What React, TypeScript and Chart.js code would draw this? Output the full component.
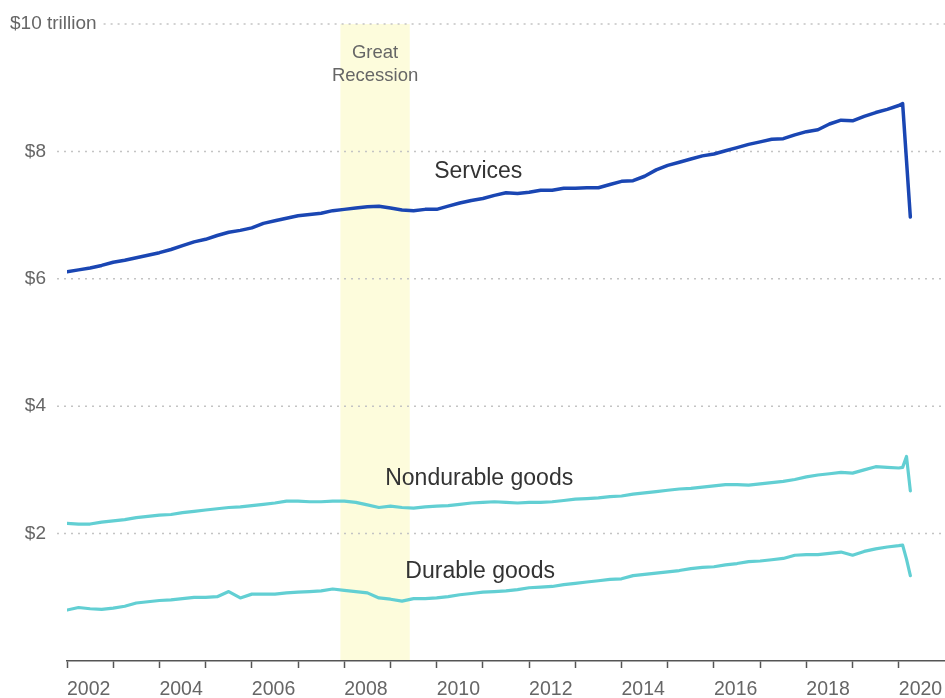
import { useEffect, useRef } from "react";
import { Chart, registerables } from "chart.js";

Chart.register(...registerables);

// Monthly observation dates (quarterly samples, monthly at the end)
const dates = [
  "2002-01", "2002-04", "2002-07", "2002-10",
  "2003-01", "2003-04", "2003-07", "2003-10",
  "2004-01", "2004-04", "2004-07", "2004-10",
  "2005-01", "2005-04", "2005-07", "2005-10",
  "2006-01", "2006-04", "2006-07", "2006-10",
  "2007-01", "2007-04", "2007-07", "2007-10",
  "2008-01", "2008-04", "2008-07", "2008-10",
  "2009-01", "2009-04", "2009-07", "2009-10",
  "2010-01", "2010-04", "2010-07", "2010-10",
  "2011-01", "2011-04", "2011-07", "2011-10",
  "2012-01", "2012-04", "2012-07", "2012-10",
  "2013-01", "2013-04", "2013-07", "2013-10",
  "2014-01", "2014-04", "2014-07", "2014-10",
  "2015-01", "2015-04", "2015-07", "2015-10",
  "2016-01", "2016-04", "2016-07", "2016-10",
  "2017-01", "2017-04", "2017-07", "2017-10",
  "2018-01", "2018-04", "2018-07", "2018-10",
  "2019-01", "2019-04", "2019-07", "2019-10",
  "2020-01", "2020-02", "2020-03", "2020-04",
];

// Trillions of dollars
const services = [
  6.11, 6.14, 6.17, 6.21,
  6.26, 6.29, 6.33, 6.37,
  6.41, 6.46, 6.52, 6.58,
  6.62, 6.68, 6.73, 6.76,
  6.80, 6.87, 6.91, 6.95,
  6.99, 7.01, 7.03, 7.07,
  7.09, 7.11, 7.13, 7.14,
  7.11, 7.08, 7.07, 7.09,
  7.09, 7.14, 7.19, 7.23,
  7.26, 7.31, 7.35, 7.34,
  7.36, 7.39, 7.39, 7.42,
  7.42, 7.43, 7.43, 7.48,
  7.53, 7.54, 7.61, 7.71,
  7.78, 7.83, 7.88, 7.93,
  7.96, 8.01, 8.06, 8.11,
  8.15, 8.19, 8.20, 8.26,
  8.31, 8.34, 8.43, 8.49,
  8.48, 8.55, 8.61, 8.66,
  8.72, 8.75, 7.86, 6.97,
];

const nondurable = [
  2.16, 2.15, 2.15, 2.18,
  2.20, 2.22, 2.25, 2.27,
  2.29, 2.30, 2.33, 2.35,
  2.37, 2.39, 2.41, 2.42,
  2.44, 2.46, 2.48, 2.51,
  2.51, 2.50, 2.50, 2.51,
  2.51, 2.49, 2.45, 2.41,
  2.43, 2.41, 2.40, 2.42,
  2.43, 2.44, 2.46, 2.48,
  2.49, 2.50, 2.49, 2.48,
  2.49, 2.49, 2.50, 2.52,
  2.54, 2.55, 2.56, 2.58,
  2.59, 2.62, 2.64, 2.66,
  2.68, 2.70, 2.71, 2.73,
  2.75, 2.77, 2.77, 2.76,
  2.78, 2.80, 2.82, 2.85,
  2.89, 2.92, 2.94, 2.96,
  2.95, 3.00, 3.05, 3.04,
  3.03, 3.04, 3.21, 2.67,
];

const durable = [
  0.80, 0.84, 0.82, 0.81,
  0.83, 0.86, 0.91, 0.93,
  0.95, 0.96, 0.98, 1.00,
  1.00, 1.01, 1.09, 0.99,
  1.05, 1.05, 1.05, 1.07,
  1.08, 1.09, 1.10, 1.13,
  1.11, 1.09, 1.07, 0.99,
  0.97, 0.94, 0.98, 0.98,
  0.99, 1.01, 1.04, 1.06,
  1.08, 1.09, 1.10, 1.12,
  1.15, 1.16, 1.17, 1.20,
  1.22, 1.24, 1.26, 1.28,
  1.29, 1.34, 1.36, 1.38,
  1.40, 1.42, 1.45, 1.47,
  1.48, 1.51, 1.53, 1.56,
  1.57, 1.59, 1.61, 1.66,
  1.67, 1.67, 1.69, 1.71,
  1.66, 1.72, 1.76, 1.79,
  1.81, 1.82, 1.60, 1.34,
];

const yTickValues = [2, 4, 6, 8, 10];
const yTickLabels = ["$2", "$4", "$6", "$8", "$10 trillion"];
const xTickYears = [
  2002, 2003, 2004, 2005, 2006, 2007, 2008, 2009, 2010, 2011,
  2012, 2013, 2014, 2015, 2016, 2017, 2018, 2019, 2020,
];
const recessionStart = "2007-12";
const recessionEnd = "2009-06";
const recessionText = ["Great", "Recession"];
const seriesLabelText = ["Services", "Nondurable goods", "Durable goods"];
const seriesLabelAt = [
  [2010.9, 7.68],
  [2010.92, 2.865],
  [2010.94, 1.4],
];

const FONT = '"Liberation Sans", Arial, sans-serif';

function toYear(d: string): number {
  const [y, m] = d.split("-").map(Number);
  return y + (m - 1) / 12;
}

function toPoints(values: number[]) {
  return values.map((v, i) => ({ x: toYear(dates[i]), y: v }));
}

const annotatePlugin = {
  id: "annotate",
  beforeDraw(chart: any) {
    const { ctx, scales } = chart;
    const x = scales.x;
    const y = scales.y;
    ctx.save();
    // recession band
    const bx0 = x.getPixelForValue(toYear(recessionStart));
    const bx1 = x.getPixelForValue(toYear(recessionEnd));
    const byTop = y.getPixelForValue(10);
    const byBot = y.getPixelForValue(0);
    ctx.fillStyle = "#fdfcdc";
    ctx.fillRect(bx0, byTop, bx1 - bx0, byBot - byTop - 1);

    // y grid + labels
    ctx.font = `19px ${FONT}`;
    ctx.textBaseline = "middle";
    yTickValues.forEach((v, i) => {
      const py = y.getPixelForValue(v);
      const label = yTickLabels[i];
      let start: number;
      ctx.fillStyle = "#666";
      if (i === yTickValues.length - 1) {
        ctx.textAlign = "left";
        ctx.fillText(label, 10, py);
        start = 10 + ctx.measureText(label).width + 7;
      } else {
        ctx.textAlign = "right";
        ctx.fillText(label, 46, py);
        start = 57;
      }
      ctx.save();
      ctx.setLineDash([2, 5]);
      ctx.strokeStyle = "#c4c4c4";
      ctx.lineWidth = 1.5;
      ctx.beginPath();
      ctx.moveTo(start, py);
      ctx.lineTo(chart.width, py);
      ctx.stroke();
      ctx.restore();
    });

    // recession text
    ctx.font = `18.5px ${FONT}`;
    ctx.fillStyle = "#666";
    ctx.textAlign = "center";
    const cx = (bx0 + bx1) / 2;
    ctx.fillText(recessionText[0], cx, byTop + 29);
    ctx.fillText(recessionText[1], cx, byTop + 52);
    ctx.restore();
  },
  afterDatasetsDraw(chart: any) {
    const { ctx, scales } = chart;
    ctx.save();
    ctx.font = `23px ${FONT}`;
    ctx.fillStyle = "#333";
    ctx.textAlign = "center";
    ctx.textBaseline = "middle";
    seriesLabelText.forEach((t, i) => {
      const [lx, ly] = seriesLabelAt[i];
      ctx.fillText(t, scales.x.getPixelForValue(lx), scales.y.getPixelForValue(ly));
    });
    ctx.restore();
  },
};

export default function App() {
  const canvasRef = useRef<HTMLCanvasElement | null>(null);

  useEffect(() => {
    if (!canvasRef.current) return;
    const lineStyle = {
      pointRadius: 0,
      tension: 0,
      borderJoinStyle: "round",
      borderCapStyle: "round",
    };
    const chart = new Chart(canvasRef.current, {
      type: "line",
      data: {
        datasets: [
          {
            label: "Services",
            data: toPoints(services),
            borderColor: "#1a46b3",
            borderWidth: 3.5,
            ...lineStyle,
          },
          {
            label: "Nondurable goods",
            data: toPoints(nondurable),
            borderColor: "#62cfd3",
            borderWidth: 3.2,
            ...lineStyle,
          },
          {
            label: "Durable goods",
            data: toPoints(durable),
            borderColor: "#62cfd3",
            borderWidth: 3.2,
            ...lineStyle,
          },
        ],
      },
      options: {
        responsive: false,
        animation: false,
        devicePixelRatio: 1,
        layout: {
          autoPadding: false,
          padding: { left: 67, top: 24, right: 0, bottom: 0 },
        },
        plugins: {
          legend: { display: false },
          tooltip: { enabled: false },
        },
        scales: {
          x: {
            type: "linear",
            min: 2002,
            max: 2021,
            afterBuildTicks: (scale: any) => {
              scale.ticks = xTickYears.map((v) => ({ value: v }));
            },
            afterFit: (scale: any) => {
              scale.height = 37;
              scale.paddingLeft = 0;
              scale.paddingRight = 0;
            },
            grid: {
              display: true,
              drawOnChartArea: false,
              drawTicks: true,
              tickLength: 7,
              tickColor: "#555",
              tickWidth: 1.5,
            },
            border: { display: true, color: "#555", width: 1.5 },
            ticks: {
              autoSkip: false,
              maxRotation: 0,
              align: "start",
              padding: 10,
              color: "#666",
              font: { family: FONT, size: 19.5 },
              callback: (v: any) => (Number(v) % 2 === 0 ? String(v) : ""),
            },
          },
          y: {
            display: false,
            min: 0,
            max: 10,
          },
        },
      } as any,
      plugins: [annotatePlugin],
    });
    return () => chart.destroy();
  }, []);

  return (
    <div style={{ position: "absolute", left: 0, top: 0, width: 945, height: 698 }}>
      <canvas ref={canvasRef} width={945} height={698} style={{ display: "block" }} />
    </div>
  );
}
